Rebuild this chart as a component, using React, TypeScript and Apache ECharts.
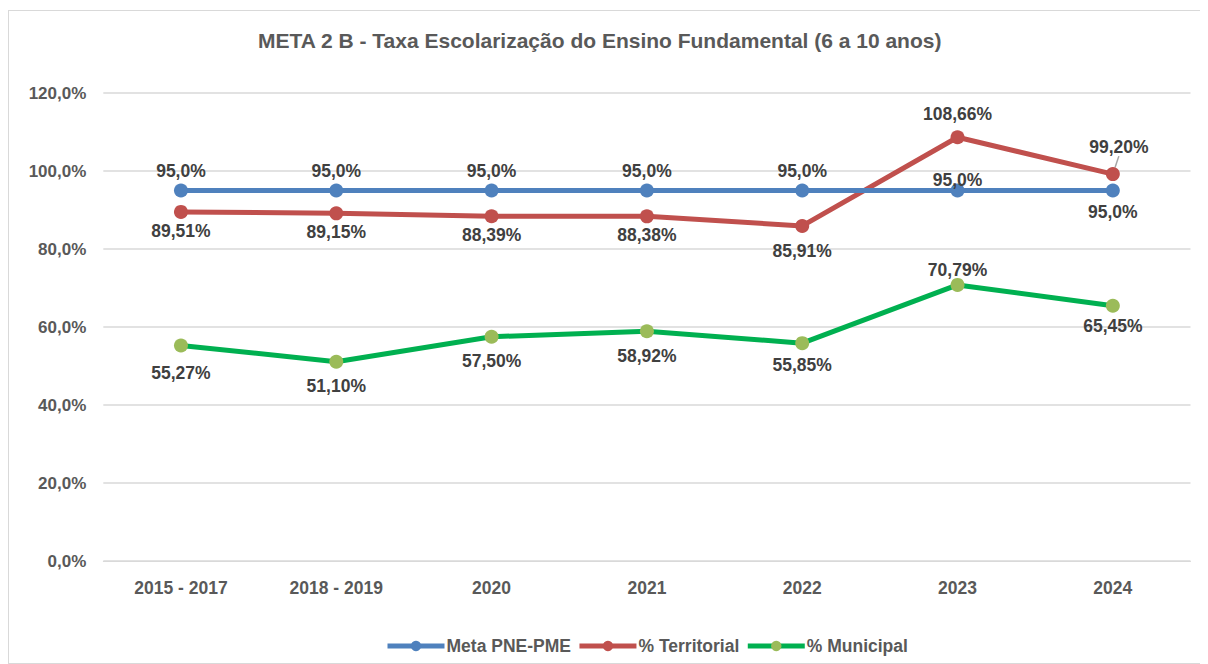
import React, { useEffect, useRef } from "react";
import * as echarts from "echarts";

const categories = ["2015 - 2017", "2018 - 2019", "2020", "2021", "2022", "2023", "2024"];
const metaValues = [95.0, 95.0, 95.0, 95.0, 95.0, 95.0, 95.0];
const territorialValues = [89.51, 89.15, 88.39, 88.38, 85.91, 108.66, 99.2];
const municipalValues = [55.27, 51.1, 57.5, 58.92, 55.85, 70.79, 65.45];
const yTicks = { min: 0, max: 120, interval: 20 };

const FONT = "'Liberation Sans', Arial, sans-serif";
const LABEL_COLOR = "#404040";
const AXIS_COLOR = "#595959";

const fmt = (v: number, d: number) => v.toFixed(d).replace(".", ",") + "%";

// label placement per point: [position, distance]
const metaPlace: [string, number][] = [
  ["top", 4], ["top", 4], ["top", 4], ["top", 4], ["top", 4], ["top", -5], ["bottom", 5],
];
const terrPlace: [string, number][] = [
  ["bottom", 3], ["bottom", 3], ["bottom", 3], ["bottom", 3], ["bottom", 9], ["top", 7], ["top", 5],
];
const muniPlace: [string, number][] = [
  ["bottom", 12], ["bottom", 8], ["bottom", 8], ["bottom", 9], ["bottom", 6], ["top", -1], ["bottom", 4],
];

function buildData(values: number[], place: [string, number][], dec: number, guideIdx = -1) {
  return values.map((v, i) => {
    const item: any = {
      value: v,
      label: {
        show: true,
        position: place[i][0],
        distance: place[i][1],
        formatter: () => fmt(v, dec),
      },
    };
    if (i === guideIdx) {
      item.labelLine = { show: true, lineStyle: { color: "#a6a6a6", width: 1.5 } };
    }
    return item;
  });
}

export default function App() {
  const ref = useRef<HTMLDivElement>(null);
  useEffect(() => {
    document.documentElement.style.overflow = "hidden";
    document.body.style.overflow = "hidden";
    if (!ref.current) return;
    const chart = echarts.init(ref.current, null, { renderer: "svg" });
    const labelStyle = {
      fontFamily: FONT,
      fontWeight: "bold",
      fontSize: 17.5,
      color: LABEL_COLOR,
    };
    chart.setOption({
      animation: false,
      backgroundColor: "#ffffff",
      title: {
        text: "META 2 B - Taxa Escolarização do Ensino Fundamental (6 a 10 anos)",
        left: 249,
        top: 19,
        padding: 0,
        textStyle: { fontFamily: FONT, fontWeight: "bold", fontSize: 21, color: AXIS_COLOR },
      },
      legend: {
        left: 376,
        top: 626,
        padding: 0,
        itemWidth: 57,
        itemHeight: 13,
        itemGap: 6,
        lineStyle: { width: 5 },
        textStyle: { fontFamily: FONT, fontWeight: "bold", fontSize: 17.5, color: AXIS_COLOR, padding: [0, 0, 0, -3] },
        data: ["Meta PNE-PME", "% Territorial", "% Municipal"],
      },
      grid: { left: 94.3, right: 16.5, top: 82, bottom: 102, containLabel: false },
      xAxis: {
        type: "category",
        data: categories,
        boundaryGap: true,
        axisLine: { lineStyle: { color: "#d9d9d9", width: 1 } },
        axisTick: { show: false },
        axisLabel: {
          margin: 18,
          fontFamily: FONT,
          fontWeight: "bold",
          fontSize: 17.5,
          color: AXIS_COLOR,
        },
      },
      yAxis: {
        type: "value",
        min: yTicks.min,
        max: yTicks.max,
        interval: yTicks.interval,
        axisLine: { show: false },
        axisTick: { show: false },
        splitLine: { lineStyle: { color: "#d9d9d9", width: 1.5 } },
        axisLabel: {
          margin: 17,
          fontFamily: FONT,
          fontWeight: "bold",
          fontSize: 17,
          color: AXIS_COLOR,
          formatter: (v: number) => v.toFixed(1).replace(".", ",") + "%",
        },
      },
      series: [
        {
          name: "Meta PNE-PME",
          type: "line",
          data: buildData(metaValues, metaPlace, 1),
          symbol: "circle",
          symbolSize: 14,
          lineStyle: { color: "#4f81bd", width: 5 },
          itemStyle: { color: "#4f81bd" },
          label: labelStyle,
          z: 3,
        },
        {
          name: "% Territorial",
          type: "line",
          data: buildData(territorialValues, terrPlace, 2, 6),
          symbol: "circle",
          symbolSize: 14,
          lineStyle: { color: "#c0504d", width: 5 },
          itemStyle: { color: "#c0504d" },
          label: labelStyle,
          labelLayout: (p: any) => (p.dataIndex === 6 ? { dx: 6, dy: -6 } : {}),
          z: 2,
        },
        {
          name: "% Municipal",
          type: "line",
          data: buildData(municipalValues, muniPlace, 2),
          symbol: "circle",
          symbolSize: 14,
          lineStyle: { color: "#00b050", width: 5 },
          itemStyle: { color: "#9bbb59" },
          label: labelStyle,
          z: 2,
        },
      ],
    });
    return () => chart.dispose();
  }, []);
  return (
    <div
      style={{
        marginTop: 2,
        width: 1198,
        height: 652,
        border: "1px solid #d9d9d9",
        background: "#fff",
      }}
    >
      <div ref={ref} style={{ width: 1198, height: 652 }} />
    </div>
  );
}
